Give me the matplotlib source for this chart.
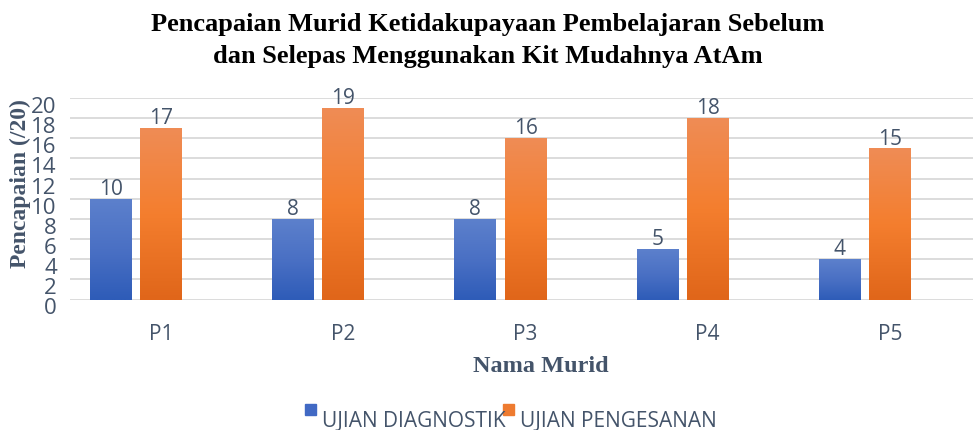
import numpy as np
import matplotlib.pyplot as plt
import matplotlib.transforms as mtrans
from matplotlib.colors import LinearSegmentedColormap
from matplotlib.patches import Rectangle

murid = ['P1', 'P2', 'P3', 'P4', 'P5']
diagnostik = [10, 8, 8, 5, 4]
pengesanan = [17, 19, 16, 18, 15]
yticks = list(range(0, 21, 2))

txt = '#44546A'
W, H = 973, 431
fig = plt.figure(figsize=(W / 100, H / 100), dpi=100)
# axes runs a bit past the right edge, like the original (third empty series slot)
ax = fig.add_axes([70 / W, 130.5 / H, 911 / W, 201.5 / H])

x = np.arange(len(murid))
w = 0.23
b1 = ax.bar(x - 0.275, diagnostik, w, color='none')
b2 = ax.bar(x, pengesanan, w, color='none')

grad = np.linspace(0, 1, 100).reshape(-1, 1)
cm_blue = LinearSegmentedColormap.from_list('b', ['#2E5CB8', '#4A70C4', '#5C80CC'])
cm_orng = LinearSegmentedColormap.from_list('o', ['#E0661A', '#F47E2E', '#EF8C55'])
for bars, cm in ((b1, cm_blue), (b2, cm_orng)):
    for r in bars:
        x0, y0, bw, bh = r.get_x(), r.get_y(), r.get_width(), r.get_height()
        ax.imshow(grad, extent=[x0, x0 + bw, y0, y0 + bh], origin='lower',
                  cmap=cm, aspect='auto', zorder=2)
        ax.annotate(str(int(bh)), (x0 + bw / 2, bh), xytext=(0, 3.5),
                    textcoords='offset points', ha='center', va='baseline',
                    fontsize=15, color=txt, family='Open Sans')

ax.set_xlim(-0.5, 4.5)
ax.set_ylim(0, 20)
ax.set_yticks(yticks)
ax.set_yticklabels([str(t) for t in yticks], fontsize=16, color=txt, family='Open Sans')
ax.set_xticks(x)
ax.set_xticklabels(murid, fontsize=15, color=txt, family='Open Sans')
ax.tick_params(length=0)
ax.tick_params(axis='y', pad=9.5)
ax.tick_params(axis='x', pad=17)
shift = mtrans.ScaledTranslation(0, -6 / 100, fig.dpi_scale_trans)
for lab in ax.get_yticklabels():
    lab.set_transform(lab.get_transform() + shift)
ax.grid(axis='y', color='#D9D9D9', linewidth=1.3, zorder=0)
ax.set_axisbelow(True)
for s in ax.spines.values():
    s.set_visible(False)

fig.text(20 / W, 1 - 184 / H, 'Pencapaian (/20)', rotation=90, ha='center', va='center',
         fontsize=17, fontweight='bold', color=txt, family='Liberation Serif')
fig.text(541 / W, 1 - 372 / H, 'Nama Murid', ha='center', va='baseline',
         fontsize=17.5, fontweight='bold', color=txt, family='Liberation Serif')

fig.text(488 / W, 1 - 31 / H, 'Pencapaian Murid Ketidakupayaan Pembelajaran Sebelum',
         ha='center', va='baseline', fontsize=19, fontweight='bold',
         family='Liberation Serif')
fig.text(488 / W, 1 - 63 / H, 'dan Selepas Menggunakan Kit Mudahnya AtAm',
         ha='center', va='baseline', fontsize=19, fontweight='bold',
         family='Liberation Serif')

# legend drawn by hand: the squares sit high and overlap the text a little
leg = [('UJIAN DIAGNOSTIK', '#4169C4', 305, 322), ('UJIAN PENGESANAN', '#EE7B30', 503, 520)]
for name, col, mx, tx in leg:
    fig.patches.append(Rectangle((mx / W, 1 - 416 / H), 11 / W, 11 / H, color=col,
                                 transform=fig.transFigure, figure=fig))
    fig.text(tx / W, 1 - 427 / H, name, ha='left', va='baseline', fontsize=15,
             color=txt, family='Open Sans')

fig.savefig('out.png', dpi=100)
